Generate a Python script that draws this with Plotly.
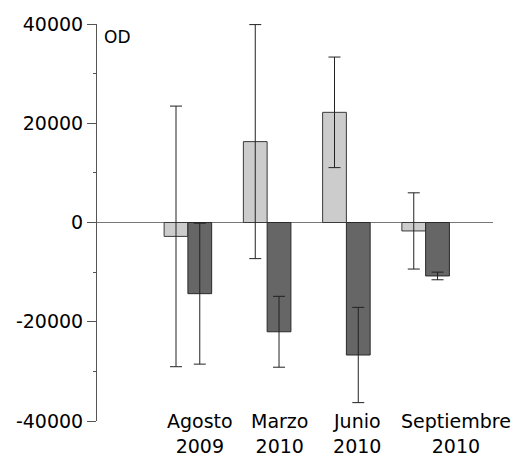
import plotly.graph_objects as go

# Data
categories = ["Agosto<br>2009", "Marzo<br>2010", "Junio<br>2010", "Septiembre<br>2010"]
light_values = [-2800, 16300, 22200, -1700]
light_errors = [26260, 23580, 11140, 7680]
dark_values = [-14340, -22020, -26700, -10770]
dark_errors = [14200, 7140, 9600, 770]
tick_values = [40000, 20000, 0, -20000, -40000]
tick_labels = ["40000", "20000", "0", "-20000", "-40000"]
minor_tick_values = [30000, 10000, -10000, -30000]
y_label = "OD"

# Layout-only: horizontal offsets of category labels from category centres
label_offsets = [0.158, 0.151, 0.14, 0.38]

FONT = "DejaVu Sans"
xs = list(range(len(categories)))

fig = go.Figure()
fig.add_trace(go.Bar(
    x=xs, y=light_values,
    marker=dict(color="#cccccc", line=dict(color="#3a3a3a", width=1)),
    error_y=dict(type="data", array=light_errors, visible=True,
                 color="#222222", thickness=1, width=6),
    showlegend=False,
))
fig.add_trace(go.Bar(
    x=xs, y=dark_values,
    marker=dict(color="#666666", line=dict(color="#2a2a2a", width=1)),
    error_y=dict(type="data", array=dark_errors, visible=True,
                 color="#222222", thickness=1, width=6),
    showlegend=False,
))

annotations = []
for i, (lab, off) in enumerate(zip(categories, label_offsets)):
    annotations.append(dict(
        x=i + off, y=0, xref="x", yref="paper",
        text=lab, showarrow=False, xanchor="center", yanchor="top",
        yshift=12, borderpad=0, font=dict(family=FONT, size=19, color="black"),
    ))
annotations.append(dict(
    x=0, y=1, xref="paper", yref="paper", text=y_label, showarrow=False,
    xanchor="left", yanchor="top", xshift=5, yshift=-1,
    font=dict(family=FONT, size=17, color="black"),
))

fig.update_layout(
    width=515, height=459,
    margin=dict(l=97, r=22, t=24, b=38),
    paper_bgcolor="white", plot_bgcolor="white",
    barmode="group", bargap=0.4, bargroupgap=0,
    annotations=annotations,
    font=dict(family=FONT, size=19, color="black"),
    xaxis=dict(range=[-1.147, 3.85], showline=False, showticklabels=False,
               ticks="", showgrid=False, zeroline=False, fixedrange=True),
    yaxis=dict(range=[-40000, 40000], showline=True, linecolor="#555555",
               linewidth=1, ticks="outside", ticklen=9, tickcolor="#555555",
               tickvals=tick_values, ticktext=tick_labels,
               tickfont=dict(family=FONT, size=19, color="black"),
               showgrid=False, zeroline=True, zerolinecolor="#777777",
               zerolinewidth=1,
               minor=dict(ticks="outside", ticklen=3, tickvals=minor_tick_values,
                          tickcolor="#555555", showgrid=False)),
)

fig.write_html("out.html")
